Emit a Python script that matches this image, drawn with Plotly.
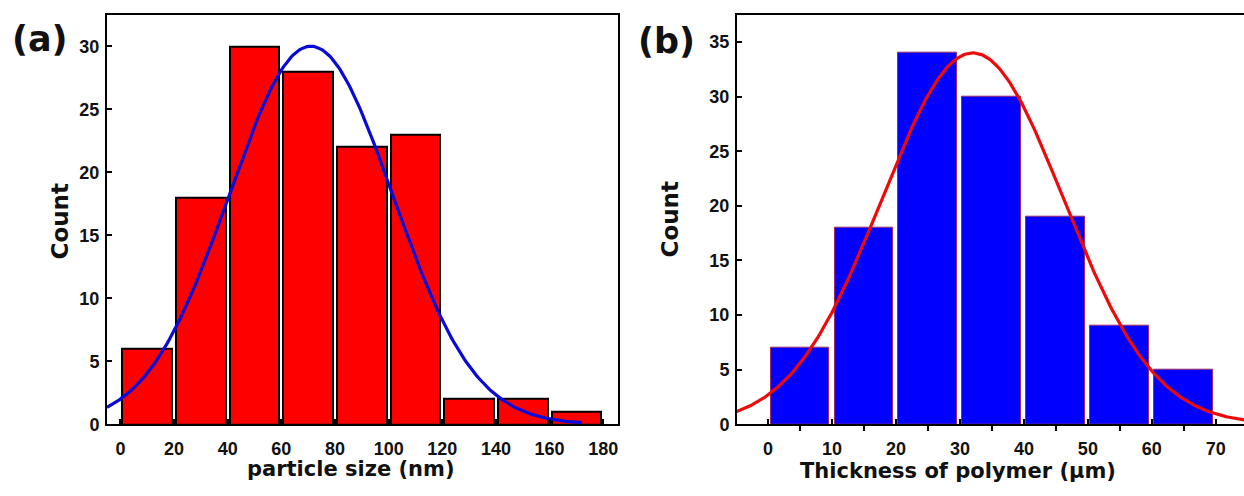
import numpy as np
import plotly.graph_objects as go

# ---- panel (a): particle size histogram ----
size_centers = [10, 30, 50, 70, 90, 110, 130, 150, 170]
size_counts = [6, 18, 30, 28, 22, 23, 2, 2, 1]
size_ticks = [0, 20, 40, 60, 80, 100, 120, 140, 160, 180]
count_ticks_a = [0, 5, 10, 15, 20, 25, 30]
# Gaussian fit parameters (amplitude, mean, sigma)
fit_a_amp, fit_a_mu, fit_a_sigma = 30.0, 71.0, 30.5

# ---- panel (b): polymer thickness histogram ----
thick_centers = [5, 15, 25, 35, 45, 55, 65]
thick_counts = [7, 18, 34, 30, 19, 9, 5]
thick_ticks = [0, 10, 20, 30, 40, 50, 60, 70]
thick_minor = [5, 15, 25, 35, 45, 55, 65]
count_ticks_b = [0, 5, 10, 15, 20, 25, 30, 35]
fit_b_amp, fit_b_mu, fit_b_sigma = 34.0, 32.0, 14.2

W, H = 1244, 496

def gauss(x, amp, mu, sig):
    return amp * np.exp(-((x - mu) ** 2) / (2 * sig ** 2))

xa = np.linspace(-5, 172, 300)
xb = np.linspace(-4.9, 74.5, 300)

fig = go.Figure()

fig.add_trace(go.Bar(
    x=size_centers, y=size_counts, width=18.5,
    marker=dict(color="#ff0000", line=dict(color="#000000", width=2)),
    xaxis="x", yaxis="y", showlegend=False,
))
fig.add_trace(go.Scatter(
    x=xa, y=gauss(xa, fit_a_amp, fit_a_mu, fit_a_sigma), mode="lines",
    line=dict(color="#0a0ad8", width=3.2), xaxis="x", yaxis="y", showlegend=False,
))

fig.add_trace(go.Bar(
    x=thick_centers, y=thick_counts, width=9.2,
    marker=dict(color="#0000ff", line=dict(color="#9a2a6a", width=1)),
    xaxis="x2", yaxis="y2", showlegend=False,
))
fig.add_trace(go.Scatter(
    x=xb, y=gauss(xb, fit_b_amp, fit_b_mu, fit_b_sigma), mode="lines",
    line=dict(color="#ee0a0a", width=3.2), xaxis="x2", yaxis="y2", showlegend=False,
))

tick_font = dict(family="Liberation Sans, Arial, sans-serif", size=18, color="#111111", weight="bold")
title_font = dict(family="DejaVu Sans, sans-serif", size=21, color="#111111", weight="bold")
count_font = dict(family="DejaVu Sans, sans-serif", size=23, color="#111111", weight="bold")

y_dom = [1 - 433 / H, 1 - 15 / H]

common_axis = dict(
    showgrid=False, zeroline=False, showline=True, linecolor="#000000", linewidth=2,
    ticks="inside", ticklen=5, tickwidth=2, tickcolor="#000000", tickfont=tick_font,
)

fig.update_layout(
    width=W, height=H,
    margin=dict(l=0, r=0, t=0, b=0),
    paper_bgcolor="white", plot_bgcolor="white",
    bargap=0,
    xaxis=dict(common_axis, domain=[107 / W, 618 / W], range=[-5, 185.5],
               tickvals=size_ticks, mirror=True, anchor="y", ticklabelstandoff=7),
    yaxis=dict(common_axis, domain=y_dom, range=[0, 32.5],
               tickvals=count_ticks_a, mirror=True, anchor="x", ticklabelstandoff=2),
    xaxis2=dict(common_axis, domain=[737 / W, 1.0], range=[-4.84, 74.4],
                tickvals=thick_ticks, mirror=True, anchor="y2", ticklabelstandoff=7,
                minor=dict(tickvals=thick_minor, ticks="outside",
                           ticklen=5, tickwidth=2, tickcolor="#000000")),
    yaxis2=dict(common_axis, domain=y_dom, range=[0, 37.5],
                tickvals=count_ticks_b, mirror=False, anchor="x2", ticklabelstandoff=2),
)

def ann(text, px, py, font, angle=0):
    fig.add_annotation(text=text, x=px / W, y=1 - py / H, xref="paper", yref="paper",
                       showarrow=False, font=font, textangle=angle,
                       xanchor="center", yanchor="middle")

label_font = dict(family="DejaVu Sans, sans-serif", size=35, color="#111111", weight="bold")
ann("(a)", 40, 40, label_font)
ann("(b)", 666, 42, label_font)
ann("Count", 60, 226, count_font, -90)
ann("Count", 670, 224, count_font, -90)
ann("particle size (nm)", 351, 479, title_font)
ann("Thickness of polymer (μm)", 958, 481, title_font)

fig.write_html("out.html")
